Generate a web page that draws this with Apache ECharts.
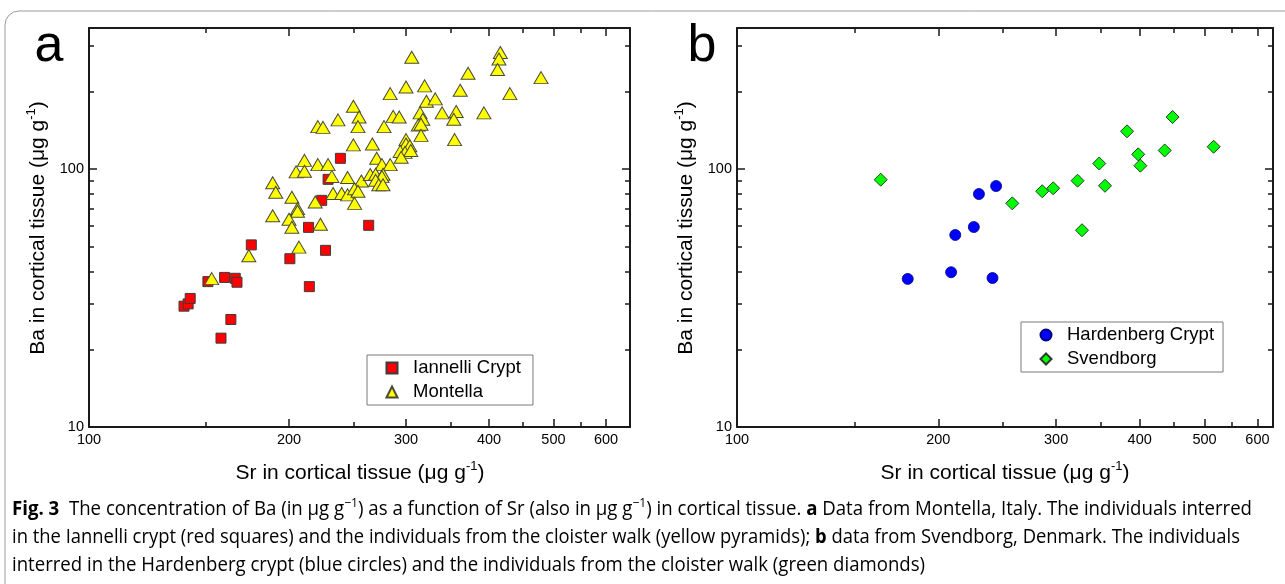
<!DOCTYPE html>
<html>
<head>
<meta charset="utf-8">
<script src="https://cdn.jsdelivr.net/npm/echarts@6/dist/echarts.min.js"></script>
<style>
  html, body { margin: 0; padding: 0; background: #fff; }
  #chart { width: 1285px; height: 584px; }
</style>
</head>
<body>
<div id="chart"></div>
<script>
// Sr (x) and Ba (y) in cortical tissue, µg/g
const srMajorTicks = [100, 200, 300, 400, 500, 600];
const srMinorTicks = [150, 250, 350, 450, 550];
const baMajorTicks = [10, 100];
const baMinorTicks = [20, 30, 40, 50, 60, 70, 80, 90, 200, 300];

// Panel a: Montella, Italy
const iannelliCrypt = [
  [139, 29.4], [141, 30.0], [142, 31.5], [151, 36.6], [160, 38.0], [166, 37.7],
  [167, 36.4], [163.5, 26.1], [158, 22.1], [175.5, 50.8], [200.6, 44.9], [214, 59.4],
  [227, 48.4], [214.6, 35.0], [263.6, 60.5], [239, 110], [229, 91.2], [224, 75.6]
];
const montella = [
  [306, 271], [416, 283], [414, 267], [412, 243], [372, 235], [479, 226],
  [300, 208], [320, 210], [284, 196], [362, 202], [430, 196], [322, 183],
  [332, 187], [250, 175], [255, 159], [254, 146], [221, 146], [225, 145],
  [237, 155], [287, 160], [293, 159], [278, 146], [315, 165], [318, 156],
  [313, 148], [316, 149], [340, 165], [357, 167], [354, 156], [393, 165],
  [316, 135], [355, 130], [250, 124], [267, 125], [300, 130], [300, 125],
  [304, 123], [294, 117], [299, 116], [305, 118], [295, 111], [271, 110],
  [211, 108], [221, 104], [229, 104], [276, 104], [284, 104], [205, 97.5],
  [211, 98], [232, 93.6], [245, 92.7], [257, 89.8], [265, 95.2], [270, 95.4],
  [277, 95.4], [276, 93.4], [270, 90.4], [273, 86.9], [277, 86.9], [189, 88.4],
  [191, 81.3], [202, 77.7], [219, 74.5], [233, 80.4], [240, 80.4], [245, 79.4],
  [251, 83.9], [254, 82.0], [251, 73.6], [206, 70.3], [206, 68.6], [189, 65.9],
  [200, 63.9], [202, 59.5], [223, 61.1], [153, 37.6], [174, 46.1], [207, 49.8]
];

// Panel b: Svendborg, Denmark
const hardenbergCrypt = [
  [180, 37.5], [209, 39.8], [241, 37.8], [212, 55.5], [226, 59.6], [230, 80], [244, 85.9]
];
const svendborg = [
  [164, 90.9], [258, 73.6], [286, 82.0], [297, 84.2], [323, 90.1], [328, 57.9],
  [348, 105], [355, 86.1], [383, 140], [398, 114], [401, 103], [436, 118],
  [448, 159], [516, 122]
];

const xTitle = ['Sr in cortical tissue (μg g', '-1', ')'];
const yTitle = ['Ba in cortical tissue (μg g', '-1', ')'];
const captionLines = [
  [['b', 'Fig. 3'], ['n', '  The concentration of Ba (in μg g'], ['s', '−1'],
   ['n', ') as a function of Sr (also in μg g'], ['s', '−1'],
   ['n', ') in cortical tissue. '], ['b', 'a'],
   ['n', ' Data from Montella, Italy. The individuals interred']],
  [['n', 'in the Iannelli crypt (red squares) and the individuals from the cloister walk (yellow pyramids); '],
   ['b', 'b'], ['n', ' data from Svendborg, Denmark. The individuals']],
  [['n', 'interred in the Hardenberg crypt (blue circles) and the individuals from the cloister walk (green diamonds)']]
];

const AX_FONT = '"Liberation Sans", Arial, sans-serif';
const CAP_FONT = '"Open Sans", "Noto Sans", sans-serif';
const INK = '#1a1a1a';

const grids = [
  { left: 89, top: 28, width: 541, height: 399, xMax: 652 },
  { left: 737, top: 28, width: 536, height: 399, xMax: 633 }
];
const yRange = [10, 352];

const xAxes = [];
const yAxes = [];
function tickAxis(gridIndex, pos, min, max, ticks, len, line, labels) {
  return {
    type: 'log', logBase: 10, gridIndex, position: pos, min, max,
    axisLine: { show: line, onZero: false, lineStyle: { color: INK, width: 2 } },
    axisTick: { show: true, inside: true, length: len, customValues: ticks,
                lineStyle: { color: INK, width: 1.5 } },
    axisLabel: { show: !!labels, customValues: labels || [], color: '#000',
                 fontSize: 14.5, fontFamily: AX_FONT, margin: 5 },
    splitLine: { show: false }, minorTick: { show: false }
  };
}
grids.forEach((g, gi) => {
  xAxes.push(tickAxis(gi, 'bottom', 100, g.xMax, srMajorTicks, 8, true, srMajorTicks));
  xAxes.push(tickAxis(gi, 'bottom', 100, g.xMax, srMinorTicks, 5, false));
  xAxes.push(tickAxis(gi, 'top', 100, g.xMax, srMajorTicks, 8, true));
  xAxes.push(tickAxis(gi, 'top', 100, g.xMax, srMinorTicks, 5, false));
  yAxes.push(tickAxis(gi, 'left', yRange[0], yRange[1], baMajorTicks, 8, true, baMajorTicks));
  yAxes.push(tickAxis(gi, 'left', yRange[0], yRange[1], baMinorTicks, 5, false));
  yAxes.push(tickAxis(gi, 'right', yRange[0], yRange[1], baMajorTicks, 8, true));
  yAxes.push(tickAxis(gi, 'right', yRange[0], yRange[1], baMinorTicks, 5, false));
});

// scale a caption line horizontally so it spans the measured width
const measureCtx = document.createElement('canvas').getContext('2d');
const CAP_SIZE = 20, CAP_SUP = 13;
function lineWidth(tokens) {
  let w = 0;
  tokens.forEach(([k, t]) => {
    const size = k === 's' ? CAP_SUP : CAP_SIZE;
    measureCtx.font = (k === 'b' ? 'bold ' : '') + size + 'px ' + CAP_FONT;
    w += measureCtx.measureText(t).width;
  });
  return w;
}
const captionEnds = [1252, 1240, 925];
const captionY = [509, 537, 565];
const captionRich = {
  n: { fontSize: CAP_SIZE, fontFamily: CAP_FONT, color: '#231f20', lineHeight: 24 },
  b: { fontSize: CAP_SIZE, fontFamily: CAP_FONT, fontWeight: 'bold', color: '#231f20', lineHeight: 24 },
  s: { fontSize: CAP_SUP, fontFamily: CAP_FONT, color: '#231f20', verticalAlign: 'top', lineHeight: 14 }
};
const captionGraphics = captionLines.map((tokens, i) => ({
  type: 'text', x: 12, y: captionY[i],
  scaleX: (captionEnds[i] - 12) / lineWidth(tokens),
  style: {
    text: tokens.map(([k, t]) => '{' + k + '|' + t + '}').join(''),
    rich: captionRich, align: 'left', verticalAlign: 'middle'
  }
}));

const titleRich = {
  m: { fontSize: 21, fontFamily: AX_FONT, color: '#000', lineHeight: 26 },
  s: { fontSize: 13, fontFamily: AX_FONT, color: '#000', verticalAlign: 'top', lineHeight: 14 }
};
function titleText(parts) {
  return '{m|' + parts[0] + '}{s|' + parts[1] + '}{m|' + parts[2] + '}';
}

function legendBox(names, left, top, padRight) {
  return {
    data: names, orient: 'vertical', left, top,
    padding: [2.5, padRight, 2.5, 18.5], itemGap: 3, itemWidth: 11, itemHeight: 11,
    borderColor: '#7a7a7a', borderWidth: 1, borderRadius: 0, backgroundColor: '#fff',
    textStyle: { fontSize: 18.5, fontFamily: AX_FONT, color: '#000', lineHeight: 21,
                 padding: [0, 0, 0, 10.5] },
    selectedMode: false
  };
}

const option = {
  animation: false,
  backgroundColor: '#fff',
  grid: grids.map(g => ({ left: g.left, top: g.top, width: g.width, height: g.height,
                          containLabel: false, outerBoundsMode: 'none', show: false })),
  xAxis: xAxes,
  yAxis: yAxes,
  legend: [
    legendBox(['Iannelli Crypt', 'Montella'], 367, 355, 12),
    legendBox(['Hardenberg Crypt', 'Svendborg'], 1021, 322, 9)
  ],
  series: [
    {
      name: 'Iannelli Crypt', type: 'scatter', xAxisIndex: 0, yAxisIndex: 0,
      data: iannelliCrypt, symbol: 'rect', symbolSize: 10,
      itemStyle: { color: '#ff0000', borderColor: '#3c3c3c', borderWidth: 1, opacity: 1 }
    },
    {
      name: 'Montella', type: 'scatter', xAxisIndex: 0, yAxisIndex: 0,
      data: montella, symbol: 'triangle', symbolSize: [14, 12],
      itemStyle: { color: '#ffff00', borderColor: '#4a4a3a', borderWidth: 1, opacity: 1 }
    },
    {
      name: 'Hardenberg Crypt', type: 'scatter', xAxisIndex: 4, yAxisIndex: 4,
      data: hardenbergCrypt, symbol: 'circle', symbolSize: 11,
      itemStyle: { color: '#0000ff', borderColor: '#000080', borderWidth: 0.8, opacity: 1 }
    },
    {
      name: 'Svendborg', type: 'scatter', xAxisIndex: 4, yAxisIndex: 4,
      data: svendborg, symbol: 'diamond', symbolSize: [13, 13],
      itemStyle: { color: '#00ff00', borderColor: '#2b3a2b', borderWidth: 1, opacity: 1 }
    }
  ],
  graphic: [
    { type: 'rect', shape: { x: 5, y: 11, width: 1300, height: 600, r: 14 },
      style: { fill: 'none', stroke: '#9a9a9a', lineWidth: 1 }, silent: true },
    { type: 'text', x: 49, y: 47, style: { text: 'a', fontSize: 52, fontFamily: AX_FONT,
      fill: '#000', align: 'center', verticalAlign: 'middle' } },
    { type: 'text', x: 702, y: 47, style: { text: 'b', fontSize: 52, fontFamily: AX_FONT,
      fill: '#000', align: 'center', verticalAlign: 'middle' } },
    { type: 'text', x: 360, y: 473, style: { text: titleText(xTitle), rich: titleRich,
      align: 'center', verticalAlign: 'middle' } },
    { type: 'text', x: 1005, y: 473, style: { text: titleText(xTitle), rich: titleRich,
      align: 'center', verticalAlign: 'middle' } },
    { type: 'text', x: 38, y: 228, rotation: Math.PI / 2, style: { text: titleText(yTitle),
      rich: titleRich, align: 'center', verticalAlign: 'middle' } },
    { type: 'text', x: 686, y: 228, rotation: Math.PI / 2, style: { text: titleText(yTitle),
      rich: titleRich, align: 'center', verticalAlign: 'middle' } }
  ].concat(captionGraphics)
};

const chart = echarts.init(document.getElementById('chart'), null, { renderer: 'canvas' });
chart.setOption(option);
</script>
</body>
</html>
